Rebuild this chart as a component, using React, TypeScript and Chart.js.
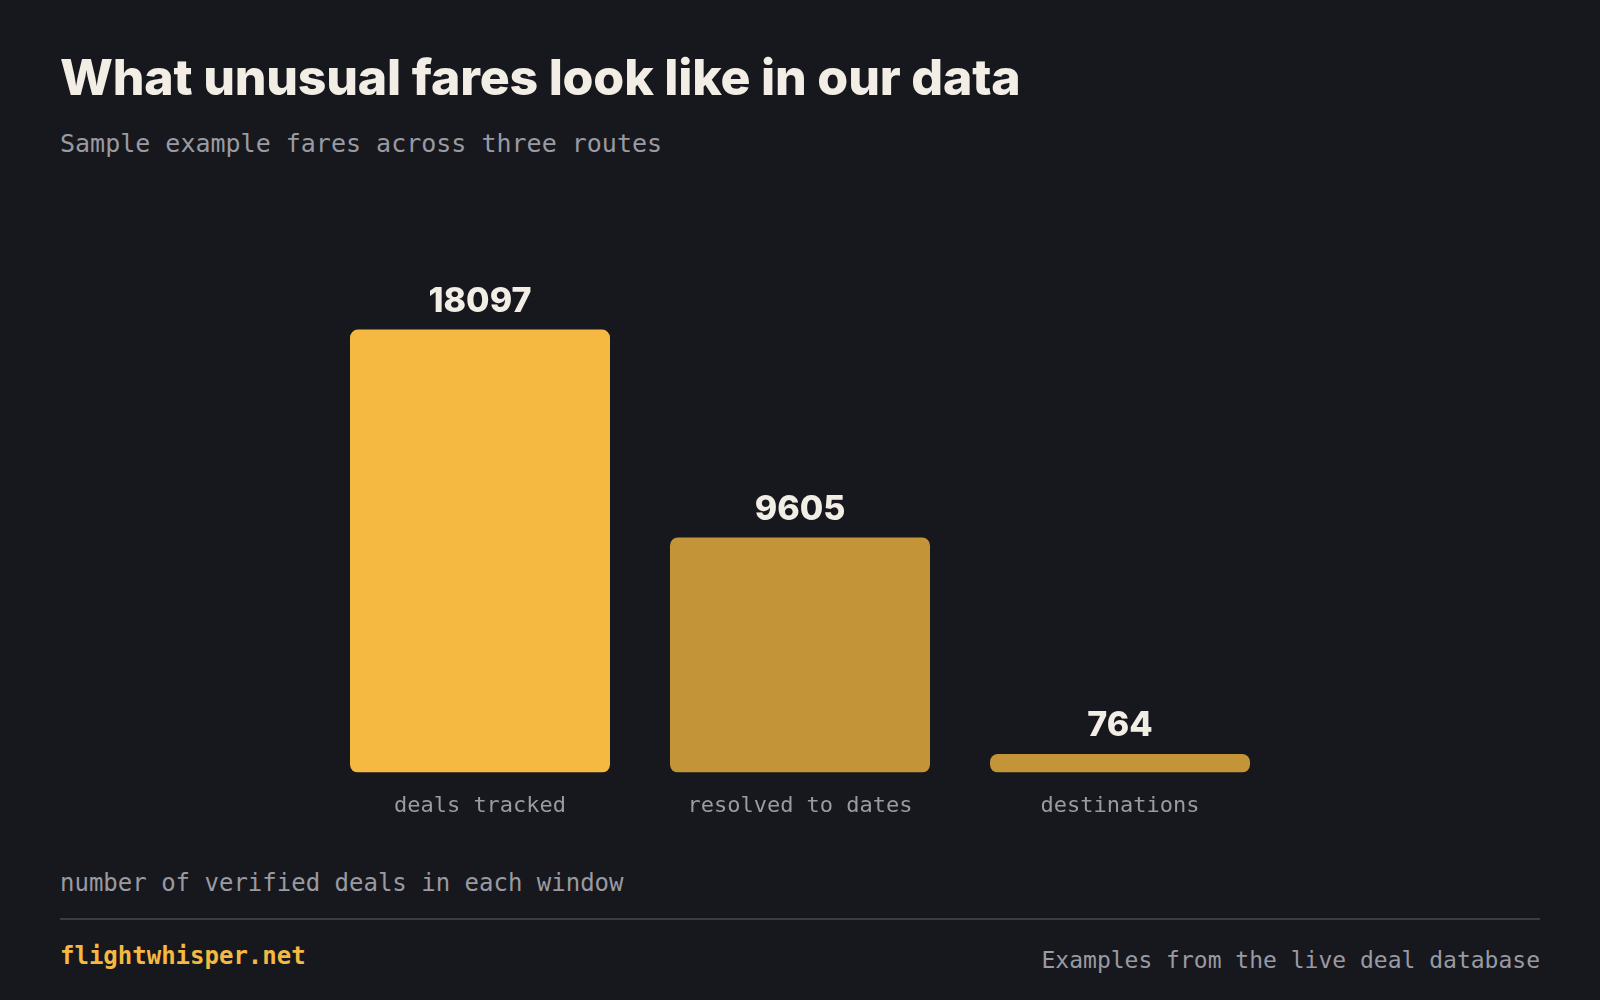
import { useEffect, useRef } from "react";
import { Chart, registerables } from "chart.js";

Chart.register(...registerables);

const categories = ["deals tracked", "resolved to dates", "destinations"];
const dealCounts = [18097, 9605, 764];
const barColors = ["#F5B942", "#C49538", "#C49538"];

const BG = "#17181D";
const CREAM = "#F2EEE6";
const GREY = "#9A9AA2";
const MONO = "'DejaVu Sans Mono', 'Liberation Mono', monospace";
const SANS = "Inter, 'Liberation Sans', sans-serif";

const valueLabels = {
  id: "valueLabels",
  afterDatasetsDraw(chart: Chart) {
    const { ctx } = chart;
    const meta = chart.getDatasetMeta(0);
    ctx.save();
    ctx.fillStyle = CREAM;
    ctx.font = `800 34px ${SANS}`;
    ctx.textAlign = "center";
    ctx.textBaseline = "middle";
    meta.data.forEach((bar: any, i: number) => {
      ctx.fillText(String(dealCounts[i]), bar.x, bar.y - 28);
    });
    ctx.restore();
  },
};

export default function App() {
  const chartRef = useRef<HTMLCanvasElement>(null);
  const chartInstance = useRef<Chart | null>(null);

  useEffect(() => {
    document.body.style.margin = "0";
    document.body.style.background = BG;
    if (!chartRef.current) return;
    if (chartInstance.current) chartInstance.current.destroy();

    chartInstance.current = new Chart(chartRef.current, {
      type: "bar",
      data: {
        labels: categories,
        datasets: [
          {
            data: dealCounts,
            backgroundColor: barColors,
            borderRadius: 8,
            borderSkipped: false,
            barPercentage: 0.8125,
            categoryPercentage: 1,
          },
        ],
      },
      options: {
        responsive: true,
        maintainAspectRatio: false,
        animation: false,
        layout: { padding: 0 },
        plugins: {
          legend: { display: false },
          tooltip: { enabled: false },
        },
        scales: {
          x: {
            grid: { display: false, drawTicks: false },
            border: { display: false },
            ticks: {
              color: GREY,
              padding: 20,
              font: { family: MONO, size: 22 },
            },
          },
          y: {
            display: false,
            min: 0,
            max: 20000,
          },
        },
      },
      plugins: [valueLabels],
    });

    return () => {
      if (chartInstance.current) {
        chartInstance.current.destroy();
        chartInstance.current = null;
      }
    };
  }, []);

  return (
    <div
      style={{
        position: "relative",
        width: 1600,
        height: 1000,
        background: BG,
        overflow: "hidden",
      }}
    >
      <div
        style={{
          position: "absolute",
          left: 60,
          top: 46,
          fontFamily: SANS,
          fontWeight: 800,
          fontSize: 50,
          letterSpacing: -0.2,
          color: CREAM,
          lineHeight: "62px",
          whiteSpace: "nowrap",
        }}
      >
        What unusual fares look like in our data
      </div>
      <div
        style={{
          position: "absolute",
          left: 60,
          top: 129,
          fontFamily: MONO,
          fontSize: 25,
          color: GREY,
          lineHeight: "30px",
          whiteSpace: "nowrap",
        }}
      >
        Sample example fares across three routes
      </div>
      <div style={{ position: "absolute", left: 320, top: 283, width: 960, height: 556 }}>
        <canvas ref={chartRef}></canvas>
      </div>
      <div
        style={{
          position: "absolute",
          left: 60,
          top: 868,
          fontFamily: MONO,
          fontSize: 24,
          color: GREY,
          lineHeight: "30px",
          whiteSpace: "nowrap",
        }}
      >
        number of verified deals in each window
      </div>
      <div
        style={{
          position: "absolute",
          left: 60,
          width: 1480,
          top: 918,
          height: 2,
          background: "#3A3B44",
        }}
      />
      <div
        style={{
          position: "absolute",
          left: 60,
          top: 941,
          fontFamily: MONO,
          fontWeight: 700,
          fontSize: 24,
          color: "#F5B942",
          lineHeight: "30px",
          whiteSpace: "nowrap",
        }}
      >
        flightwhisper.net
      </div>
      <div
        style={{
          position: "absolute",
          right: 60,
          top: 945,
          fontFamily: MONO,
          fontSize: 23,
          color: GREY,
          lineHeight: "30px",
          whiteSpace: "nowrap",
        }}
      >
        Examples from the live deal database
      </div>
    </div>
  );
}
